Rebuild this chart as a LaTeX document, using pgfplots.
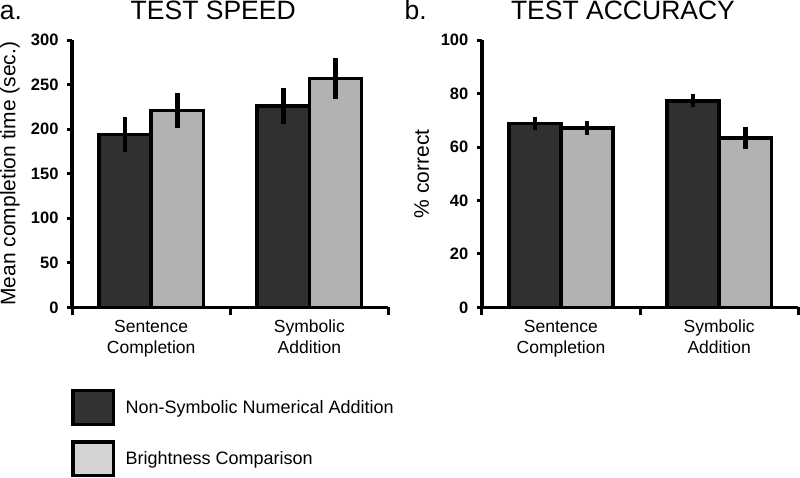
\documentclass[border=0pt]{standalone}
\usepackage{pgfplots}
\pgfplotsset{compat=1.18}
\usepackage{fontspec}
\setmainfont{Liberation Sans}
\definecolor{bardark}{HTML}{303030}
\definecolor{barlight}{HTML}{B2B2B2}
\definecolor{legdark}{HTML}{333333}
\definecolor{leglight}{HTML}{D4D4D4}
\pgfplotstableread{
x val err
0 194 20
1 226 20
}\speeddark
\pgfplotstableread{
x val err
0 221 20
1 257 23
}\speedlight
\pgfplotstableread{
x val err
0 68.8 2.6
1 77.3 2.5
}\accdark
\pgfplotstableread{
x val err
0 67.1 2.7
1 63.4 4.0
}\acclight
\pgfplotsset{
  myaxis/.style={
    scale only axis, width=315bp, height=266bp,
    axis x line*=bottom, axis y line*=left,
    axis line style={line width=3.5bp, -},
    xmin=-0.5, xmax=1.5,
    xtick={0,1},
    xticklabels={{Sentence\\Completion},{Symbolic\\Addition}},
    major x tick style={draw=none},
    minor xtick={-0.5,0.5,1.5},
    minor x tick style={line width=3bp, black},
    minor tick length=8bp,
    major tick length=5bp,
    y tick style={line width=3bp, black},
    tick align=outside,
    xticklabel style={align=center, font=\fontsize{17.5}{21}\selectfont, yshift=-4bp},
    yticklabel style={font=\bfseries\fontsize{16.5}{16.5}\selectfont, xshift=-5bp},
    /pgf/number format/assume math mode=true,
    every axis y label/.style={font=\fontsize{21}{21}\selectfont, rotate=90, anchor=center, inner sep=0pt},
    every axis title/.style={font=\fontsize{26.5}{26.5}\selectfont, at={([xshift=-17bp, yshift=20.5bp]axis description cs:0.5,1)}, anchor=base, inner sep=0pt, text height=19.5bp},
    ybar, bar width=52bp,
    clip=false,
    error bars/y dir=both, error bars/y explicit,
    error bars/error mark=none,
    error bars/error bar style={line width=4.5bp, black},
  },
  dark/.style={fill=bardark, draw=black, line width=3.5bp, bar shift=-26bp},
  light/.style={fill=barlight, draw=black, line width=3.5bp, bar shift=26bp},
}
\begin{document}
\begin{tikzpicture}
\begin{axis}[myaxis, name=a,
  ymin=0, ymax=300, ytick={0,50,...,300},
  title={TEST SPEED},
  ylabel={Mean completion time (sec.)},
  ylabel style={at={([xshift=-62bp]axis description cs:0,0.5)}},
  legend style={at={(axis description cs:0,0)}, anchor=north west, yshift=-81bp, xshift=-1bp,
    draw=none, fill=none, inner sep=0pt, row sep=14bp,
    font=\fontsize{18}{18}\selectfont, cells={anchor=west},
    /tikz/every odd column/.style={column sep=8bp}},
  legend cell align=left,
]
\addplot[dark, forget plot] table[x=x, y=val, y error=err] {\speeddark};
\addplot[light, forget plot] table[x=x, y=val, y error=err] {\speedlight};
\addlegendimage{legend image code/.code={\draw[line width=3.5bp, fill=legdark] (0bp,-16.75bp) rectangle (40.5bp,16.75bp);}}
\addlegendentry{Non-Symbolic Numerical Addition}
\addlegendimage{legend image code/.code={\draw[line width=3.5bp, fill=leglight] (0bp,-16.75bp) rectangle (40.5bp,16.75bp);}}
\addlegendentry{Brightness Comparison}
\node[anchor=base west, inner sep=0pt, text height=19.5bp, font=\fontsize{26.5}{26.5}\selectfont] at ([xshift=-72bp, yshift=20.5bp]axis description cs:0,1) {a.};
\end{axis}
\begin{axis}[myaxis, name=b, at={(408bp,0)},
  ymin=0, ymax=100, ytick={0,20,...,100},
  title={TEST ACCURACY},
  ylabel={\% correct},
  ylabel style={at={([xshift=-60bp]axis description cs:0,0.5)}},
]
\addplot[dark] table[x=x, y=val, y error=err] {\accdark};
\addplot[light] table[x=x, y=val, y error=err] {\acclight};
\node[anchor=base west, inner sep=0pt, text height=19.5bp, font=\fontsize{26.5}{26.5}\selectfont] at ([xshift=-77bp, yshift=20.5bp]axis description cs:0,1) {b.};
\end{axis}
\end{tikzpicture}
\end{document}
